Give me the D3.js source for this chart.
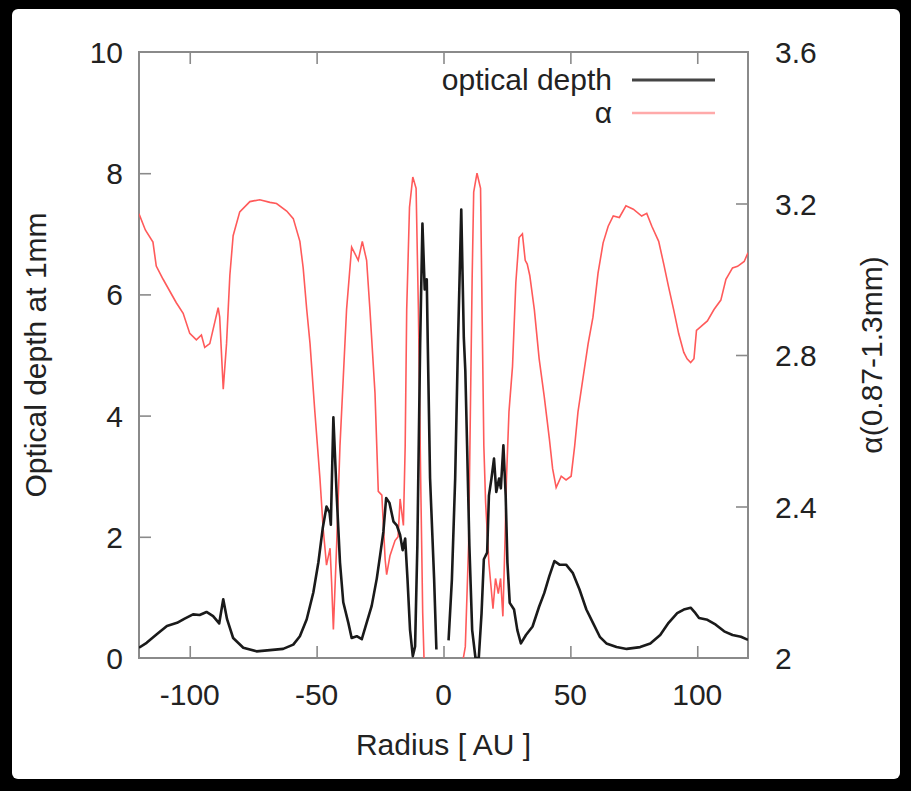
<!DOCTYPE html>
<html>
<head>
<meta charset="utf-8">
<script src="https://cdn.jsdelivr.net/npm/d3@7"></script>
<style>
  body { margin: 0; background: #000; }
  text { font-family: "Liberation Sans", Arial, sans-serif; fill: #222; }
</style>
</head>
<body>
<svg width="911" height="791"></svg>
<script>
// optical depth profile (gap near r=0)
var tauR = [-120,-117,-113,-109,-105,-102,-98.7,-96.1,-93.4,-90.8,-88.4,-86.8,-85.3,-82.9,-78.9,-73.7,-68.4,-63.2,-59.2,-56.6,-53.9,-51.3,-49.3,-47.6,-46.1,-44.9,-44.4,-43.4,-42.1,-40.8,-39.5,-37.5,-36.2,-34.2,-32.2,-30.3,-28.3,-26.3,-25,-23.7,-22.6,-21.3,-19.7,-18.4,-17.1,-16.1,-15.1,-14.2,-13.2,-12.1,-11.2,-10.3,-9.2,-8.3,-7.4,-6.6,-6.2,-5.3,-3.7,-2.8,
  0,
  2.0,3.3,4.6,5.7,7.0,8.0,8.6,9.3,10.2,11.3,12.6,13.9,15.0,15.9,17.2,17.9,18.9,19.9,20.8,21.9,22.6,23.6,24.5,25.2,26.1,27.8,29.1,30.5,32.5,35.1,37.7,39.7,41.7,43.7,45.7,48.3,51,53.6,56.3,58.9,61.6,64.2,68.2,72.2,77.5,81.5,85.4,88.7,92.1,94.7,97.4,99.3,100.7,104,107.3,110.6,113.9,117.2,120];
var tauV = [0.17,0.25,0.39,0.53,0.58,0.65,0.72,0.71,0.76,0.69,0.57,0.97,0.64,0.33,0.17,0.11,0.13,0.15,0.22,0.36,0.64,1.08,1.58,2.14,2.5,2.4,2.2,3.97,2.69,1.58,0.92,0.58,0.33,0.36,0.31,0.58,0.86,1.31,1.69,2.08,2.64,2.56,2.25,2.19,2.03,1.78,1.97,1.31,0.47,0.03,0.19,1.86,5.19,7.17,6.08,6.25,5.19,2.97,1.31,0.14,
  null,
  0.29,1.29,2.96,5.19,7.4,5.29,4.74,3.5,1.85,0.46,0.0,0.0,0.74,1.63,1.74,2.68,2.96,3.29,2.74,2.96,2.8,3.51,2.68,1.57,0.91,0.8,0.46,0.24,0.38,0.52,0.85,1.07,1.35,1.6,1.54,1.54,1.4,1.13,0.8,0.58,0.35,0.24,0.18,0.15,0.18,0.24,0.38,0.58,0.74,0.8,0.83,0.74,0.66,0.63,0.55,0.44,0.38,0.35,0.3];

// spectral index alpha(0.87-1.3mm)
var alphaR = [-120,-117.5,-114.5,-113.2,-110.5,-105.3,-102.6,-100,-97.4,-95.4,-94.1,-92.1,-88.8,-88.2,-86.8,-85.5,-84.2,-82.9,-80.3,-76.3,-72.4,-68.4,-65.8,-61.8,-59.2,-56.6,-55.3,-53.9,-52.6,-50.7,-48.7,-47.4,-46.1,-44.7,-44.1,-43.4,-42.1,-40.8,-39.5,-38.2,-36.2,-33.6,-32.0,-30.3,-29.0,-27.0,-25.7,-24.3,-23.0,-22.4,-21.1,-19.1,-17.9,-17.1,-15.8,-15.1,-14.5,-13.4,-12.1,-10.8,-9.9,-9.0,-8.2,-7.6,
  0,
  7.3,8.6,9.9,11.3,11.9,13.2,14.6,15.2,15.9,16.6,17.9,19.5,20.5,21.6,22.5,23.4,24.2,24.8,25.8,27.2,28.5,29.8,31.1,32.2,33.0,34.0,35.8,37.7,39.7,41.7,43.0,44.4,46.4,48.3,50.3,51.7,53.0,55.0,57.0,58.9,60.9,62.9,64.9,66.9,69.3,71.9,74.8,78.1,80.1,82.1,84.8,86.8,88.7,90.7,92.7,94.7,96.0,97.4,98.7,99.7,101.3,104.0,106.6,109.3,111.3,113.9,115.9,118.5,120];
var alphaV = [3.173,3.13,3.098,3.035,3.0,2.938,2.91,2.857,2.84,2.853,2.82,2.83,2.925,2.9,2.71,2.83,3.01,3.115,3.178,3.205,3.21,3.203,3.2,3.18,3.16,3.1,3.03,2.92,2.83,2.65,2.475,2.34,2.245,2.29,2.2,2.075,2.3,2.56,2.74,2.92,3.085,3.05,3.1,3.05,2.92,2.70,2.44,2.43,2.26,2.22,2.27,2.31,2.32,2.42,2.35,2.56,2.92,3.19,3.27,3.24,2.92,2.475,2.12,1.98,
  null,
  1.98,2.03,2.30,3.007,3.23,3.28,3.24,2.92,2.56,2.41,2.25,2.13,2.21,2.17,2.21,2.11,2.30,2.47,2.65,2.77,2.99,3.11,3.12,3.05,3.04,3.01,2.92,2.79,2.69,2.58,2.5,2.45,2.48,2.47,2.48,2.56,2.65,2.74,2.83,2.90,3.016,3.096,3.14,3.167,3.163,3.194,3.185,3.167,3.174,3.14,3.1,3.04,2.98,2.92,2.856,2.807,2.79,2.78,2.79,2.865,2.874,2.89,2.92,2.945,3.0,3.03,3.034,3.047,3.07];

var xTicks = [-100, -50, 0, 50, 100];
var leftTicks = [0, 2, 4, 6, 8, 10];
var rightTicks = [2, 2.4, 2.8, 3.2, 3.6];
var legendLabels = ["optical depth", "\u03b1"];

var svg = d3.select("svg");
var L = 139, R = 748, T = 52, B = 658;

var x = d3.scaleLinear().domain([-120, 120]).range([L, R]);
var yL = d3.scaleLinear().domain([0, 10]).range([B, T]);
var yR = d3.scaleLinear().domain([2, 3.6]).range([B, T]);

// white panel on black
svg.append("rect").attr("x", 12).attr("y", 9).attr("width", 888).attr("height", 770)
  .attr("rx", 6).attr("fill", "#fff");

svg.append("clipPath").attr("id", "clip")
  .append("rect").attr("x", L).attr("y", T).attr("width", R - L).attr("height", B - T);

// axes with inward ticks
var tk = 12;
svg.append("g").attr("transform", "translate(0," + B + ")")
  .call(d3.axisTop(x).tickValues(xTicks).tickSize(tk).tickFormat(""));
svg.append("g").attr("transform", "translate(0," + T + ")")
  .call(d3.axisBottom(x).tickValues(xTicks).tickSize(tk).tickFormat(""));
svg.append("g").attr("transform", "translate(" + L + ",0)")
  .call(d3.axisRight(yL).tickValues(leftTicks.slice(1, -1)).tickSize(tk).tickFormat(""));
svg.append("g").attr("transform", "translate(" + R + ",0)")
  .call(d3.axisLeft(yR).tickValues(rightTicks.slice(1, -1)).tickSize(tk).tickFormat(""));
svg.selectAll(".domain").remove();
svg.selectAll(".tick line").attr("stroke", "#8a8a8a").attr("stroke-width", 1.6);

svg.append("rect").attr("x", L).attr("y", T).attr("width", R - L).attr("height", B - T)
  .attr("fill", "none").attr("stroke", "#8a8a8a").attr("stroke-width", 2);

// tick labels
var fs = 30;
svg.selectAll(".xl").data(xTicks).enter().append("text")
  .attr("x", function(d) { return x(d); }).attr("y", 705)
  .attr("text-anchor", "middle").attr("font-size", fs)
  .text(function(d) { return d; });
svg.selectAll(".yl").data(leftTicks).enter().append("text")
  .attr("x", 123).attr("y", function(d) { return yL(d) + 11; })
  .attr("text-anchor", "end").attr("font-size", fs)
  .text(function(d) { return d; });
svg.selectAll(".yr").data(rightTicks).enter().append("text")
  .attr("x", 775).attr("y", function(d) { return yR(d) + 11; })
  .attr("text-anchor", "start").attr("font-size", fs)
  .text(function(d) { return d3.format(".1~f")(d); });

// axis titles
svg.append("text").attr("x", (L + R) / 2).attr("y", 755)
  .attr("text-anchor", "middle").attr("font-size", fs).text("Radius [ AU ]");
svg.append("text").attr("transform", "translate(46," + (T + B) / 2 + ") rotate(-90)")
  .attr("text-anchor", "middle").attr("font-size", fs).text("Optical depth at 1mm");
svg.append("text").attr("transform", "translate(882," + (T + B) / 2 + ") rotate(-90)")
  .attr("text-anchor", "middle").attr("font-size", fs).text("\u03b1(0.87-1.3mm)");

// curves
var plot = svg.append("g").attr("clip-path", "url(#clip)");

var redLine = d3.line()
  .defined(function(d, i) { return alphaV[i] !== null; })
  .x(function(d) { return x(d); })
  .y(function(d, i) { return yR(alphaV[i]); });
plot.append("path").datum(alphaR).attr("d", redLine)
  .attr("fill", "none").attr("stroke", "#ff5a5a").attr("stroke-width", 1.6);

var blackLine = d3.line()
  .defined(function(d, i) { return tauV[i] !== null; })
  .x(function(d) { return x(d); })
  .y(function(d, i) { return yL(tauV[i]); });
plot.append("path").datum(tauR).attr("d", blackLine)
  .attr("fill", "none").attr("stroke", "#1a1a1a").attr("stroke-width", 2.6)
  .attr("stroke-linejoin", "round");

// legend
var legColors = ["#444", "#ffaaaa"];
var legWidths = [3, 2.5];
legendLabels.forEach(function(lab, i) {
  var yy = 80 + i * 33;
  svg.append("text").attr("x", 612).attr("y", yy + 10)
    .attr("text-anchor", "end").attr("font-size", fs).text(lab);
  svg.append("line").attr("x1", 632).attr("x2", 715).attr("y1", yy).attr("y2", yy)
    .attr("stroke", legColors[i]).attr("stroke-width", legWidths[i]);
});
</script>
</body>
</html>
